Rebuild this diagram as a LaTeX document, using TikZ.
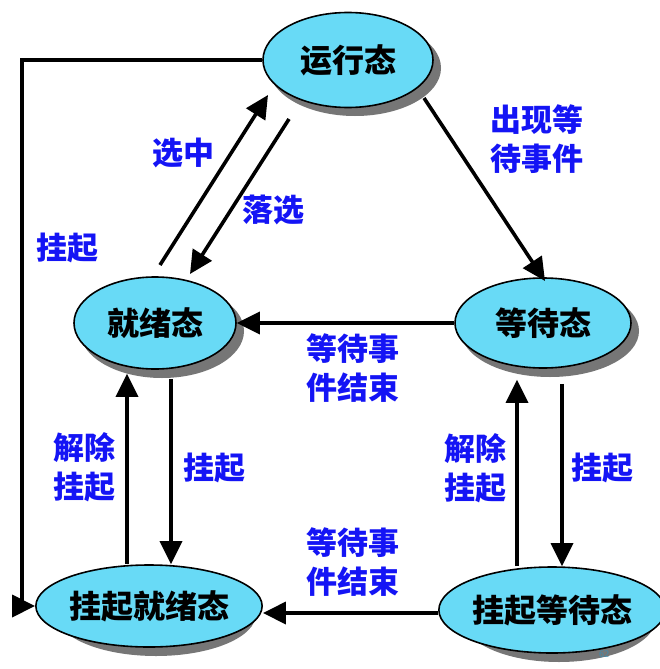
\documentclass[tikz,border=0pt]{standalone}
\usepackage{fontspec}
\newfontfamily\cjk{Noto Sans CJK SC}
\usetikzlibrary{arrows.meta,shapes.geometric,calc,backgrounds}
\definecolor{stfill}{RGB}{104,218,246}
\definecolor{shadowgray}{RGB}{118,118,118}
\definecolor{labblue}{RGB}{20,20,245}
\definecolor{pagenum}{RGB}{60,140,175}
\tikzset{
  st/.style={ellipse, draw=black, line width=1.6pt, fill=stfill, inner sep=0pt,
    font=\cjk\bfseries\fontsize{32}{38}\selectfont},
  shd/.style={fill=shadowgray},
  arr/.style={line width=3.6pt, -{Triangle[length=23pt,width=22pt]}},
  lab/.style={text=labblue, font=\cjk\bfseries\fontsize{31}{39}\selectfont, align=center, inner sep=0pt},
}
\begin{document}
\begin{tikzpicture}[x=1pt,y=-1pt]
\useasboundingbox (0,0) rectangle (660,669);
% states
\node[st, minimum width=170pt, minimum height=95pt] (yx) at (348,60) {运行态};
\node[st, minimum width=162pt, minimum height=92pt] (jx) at (155,323) {就绪态};
\node[st, minimum width=176pt, minimum height=90pt] (dd) at (543,323) {等待态};
\node[st, minimum width=198pt, minimum height=82pt] (gj) at (149,606) {挂起就绪态};
\node[st, minimum width=192pt, minimum height=86pt] (gd) at (552,610) {挂起等待态};
\begin{scope}[on background layer]
\fill[white] (0,0) rectangle (660,669);
\fill[shd] ($(yx.center)+(7,8)$) ellipse [x radius=86pt, y radius=48pt];
\fill[shd] ($(jx.center)+(7,8)$) ellipse [x radius=82pt, y radius=47pt];
\fill[shd] ($(dd.center)+(7,8)$) ellipse [x radius=89pt, y radius=46pt];
\fill[shd] ($(gj.center)+(7,8)$) ellipse [x radius=100pt, y radius=42pt];
\fill[shd] ($(gd.center)+(7,8)$) ellipse [x radius=97pt, y radius=44pt];
\end{scope}
% connectors
\draw[arr] (yx.west) -- ++(-240,0) coordinate (c1) |- (gj.west);
\draw[arr] ($(jx.center)+(5,-58)$) -- ($(yx.center)+(-80,35)$);
\draw[arr] ($(yx.center)+(-59,59)$) -- ($(jx.center)+(35,-49)$);
\draw[arr] ($(yx.center)+(76,38)$) -- ($(dd.center)+(2,-42)$);
\draw[arr] (dd.west) -- (jx.east);
\draw[arr] ([xshift=-22pt]gj.north) -- ([xshift=-28pt,yshift=-4pt]jx.south);
\draw[arr] ([xshift=16pt,yshift=-9pt]jx.south) -- ([xshift=22pt]gj.north);
\draw[arr] ([xshift=-35pt]gd.north) -- ([xshift=-26pt,yshift=-11pt]dd.south);
\draw[arr] ([xshift=19pt,yshift=-15pt]dd.south) -- ([xshift=10pt]gd.north);
\draw[arr] ([yshift=-3pt]gd.west) -- ([yshift=-3pt]gd.west -| gj.east);
% labels
\node[lab] (l1) at (67,248) {挂起};
\node[lab] (l2) at (183,153) {选中};
\node[lab] (l3) at (273,210) {落选};
\node[lab] (l4) at (537,139) {出现等\\待事件};
\node[lab] (l5) at (353,368) {等待事\\件结束};
\node[lab] (l6) at (84,467) {解除\\挂起};
\node[lab] (l7) at (214,468) {挂起};
\node[lab] (l8) at (475,468) {解除\\挂起};
\node[lab] (l9) at (602,468) {挂起};
\node[lab] (l10) at (353,562) {等待事\\件结束};
\node[text=pagenum, font=\sffamily\fontsize{10}{10}\selectfont] (pn) at (604,654) {62};
\end{tikzpicture}
\end{document}
